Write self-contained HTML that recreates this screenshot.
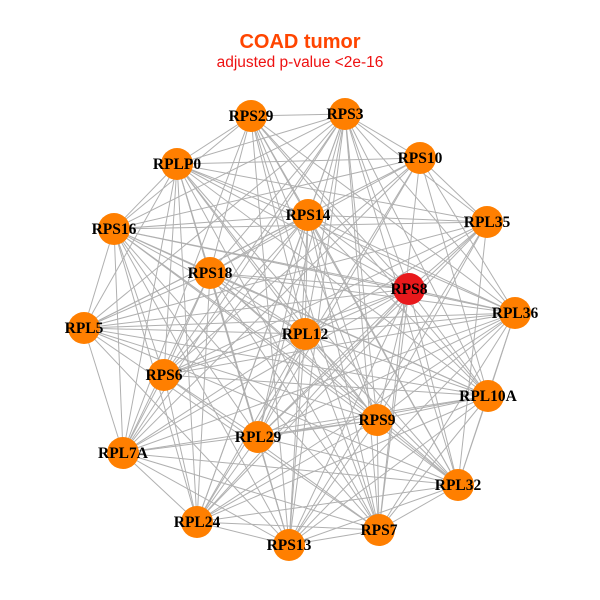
<!DOCTYPE html>
<html><head><meta charset="utf-8"><style>
html,body{margin:0;padding:0;background:#fff;}
svg{display:block;}
</style></head><body>
<svg id="g" width="600" height="600" xmlns="http://www.w3.org/2000/svg">
<rect width="600" height="600" fill="#fff"/>
<text x="300" y="48" text-anchor="middle" font-family="Liberation Sans, sans-serif" font-weight="bold" font-size="20" fill="#ff4500">COAD tumor</text>
<text x="300" y="67" text-anchor="middle" font-family="Liberation Sans, sans-serif" font-size="15.5" fill="#ee1111">adjusted p-value &lt;2e-16</text>
<g id="edges" stroke="#b0b0b0" stroke-width="1"></g>
<g id="nodes"></g>
</svg>
<script>
var N=[["RPS29",251,116],["RPS3",345,114],["RPLP0",177,164],["RPS10",420,158],["RPS16",114,229],["RPS14",308,215],["RPL35",487,222],["RPS18",210,273],["RPS8",409,289],["RPL5",84,328],["RPL36",515,313],["RPL12",305,334],["RPS6",164,375],["RPL10A",488,396],["RPS9",377,420],["RPL29",258,437],["RPL7A",123,453],["RPL32",458,485],["RPL24",197,522],["RPS7",379,530],["RPS13",289,545]];
var ns="http://www.w3.org/2000/svg",E=document.getElementById("edges"),G=document.getElementById("nodes");
for(var i=0;i<N.length;i++)for(var j=i+1;j<N.length;j++){if((i*7+j*3)%9==0)continue;var l=document.createElementNS(ns,"line");l.setAttribute("x1",N[i][1]);l.setAttribute("y1",N[i][2]);l.setAttribute("x2",N[j][1]);l.setAttribute("y2",N[j][2]);E.appendChild(l);}
N.forEach(function(n){var c=document.createElementNS(ns,"circle");c.setAttribute("cx",n[1]);c.setAttribute("cy",n[2]);c.setAttribute("r",16);c.setAttribute("fill",n[0]=="RPS8"?"#e8191c":"#ff7f00");G.appendChild(c);});
N.forEach(function(n){var t=document.createElementNS(ns,"text");t.setAttribute("x",n[1]);t.setAttribute("y",n[2]+5);t.setAttribute("text-anchor","middle");t.setAttribute("font-family","Liberation Serif, serif");t.setAttribute("font-weight","bold");t.setAttribute("font-size","15.5");t.textContent=n[0];G.appendChild(t);});
</script>
</body></html>
